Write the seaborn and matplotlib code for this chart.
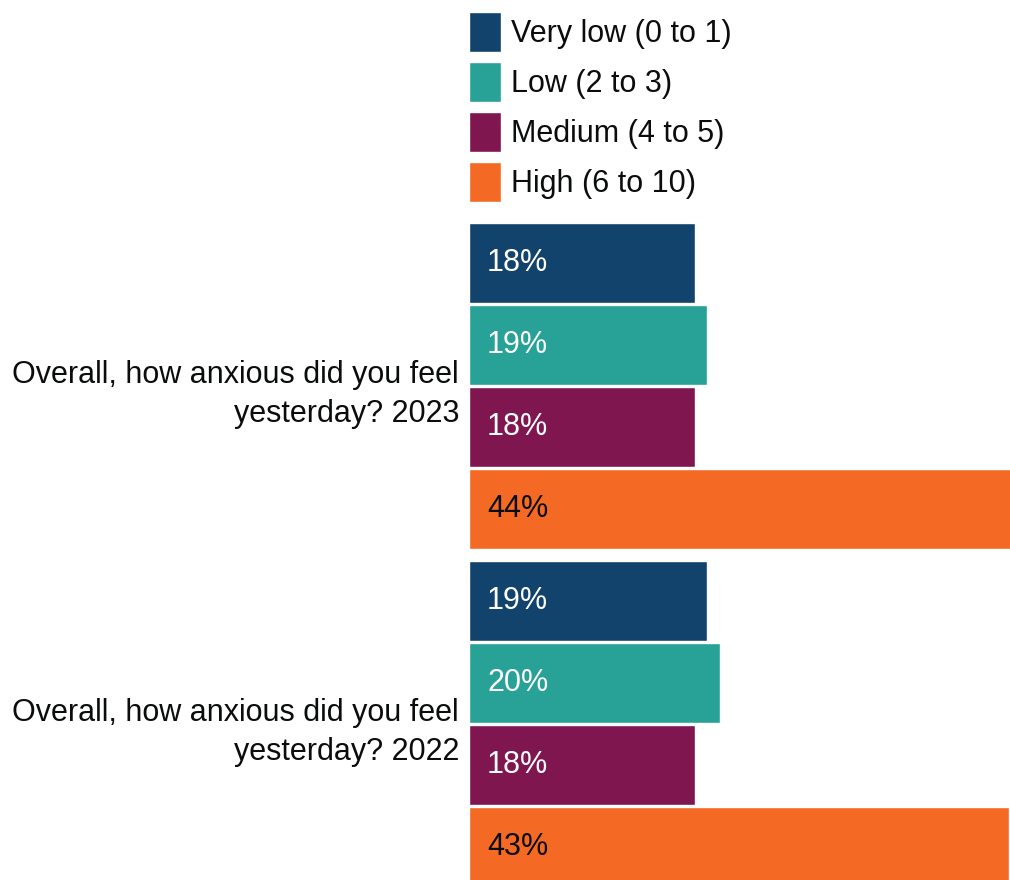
import matplotlib
matplotlib.use("Agg")
import matplotlib.pyplot as plt
import seaborn as sns
import pandas as pd

# Survey responses: share of people by anxiety rating
questions = [
    "Overall, how anxious did you feel\nyesterday? 2023",
    "Overall, how anxious did you feel\nyesterday? 2022",
]
bands = ["Very low (0 to 1)", "Low (2 to 3)", "Medium (4 to 5)", "High (6 to 10)"]
values_2023 = [18, 19, 18, 44]
values_2022 = [19, 20, 18, 43]
colours = ["#12436D", "#28A197", "#801650", "#F46A25"]
label_colours = ["white", "white", "white", "#0b0c0c"]

df = pd.DataFrame({
    "question": [questions[0]] * 4 + [questions[1]] * 4,
    "band": bands * 2,
    "value": values_2023 + values_2022,
})

sns.set_theme(style="white")
plt.rcParams["font.family"] = ["Liberation Sans", "DejaVu Sans"]
plt.rcParams["text.color"] = "#0b0c0c"

fig = plt.figure(figsize=(10.1, 8.8), dpi=100)
ax = fig.add_axes([469 / 1010, 0.0, 541 / 1010, 667 / 880])

sns.barplot(
    data=df, y="question", x="value", hue="band",
    order=questions, hue_order=bands, palette=colours,
    orient="h", width=0.97, gap=0.025, saturation=1,
    ax=ax, legend=True,
)

ax.set_xlim(0, 43.1)
ax.set_ylim(1.4615, -0.512)
ax.set_xlabel("")
ax.set_ylabel("")
ax.xaxis.set_visible(False)
for s in ax.spines.values():
    s.set_visible(False)
ax.tick_params(axis="y", length=0, pad=7.2, labelsize=22, labelcolor="#0b0c0c")
for lbl in ax.get_yticklabels():
    lbl.set_horizontalalignment("right")
    lbl.set_multialignment("right")
    lbl.set_linespacing(1.4)

# Value labels inside the start of each bar
for band_i, container in enumerate(ax.containers):
    for bar in container:
        w = bar.get_width()
        ax.annotate(
            f"{w:.0f}%",
            xy=(bar.get_x(), bar.get_y() + bar.get_height() / 2),
            xytext=(13, 0), textcoords="offset points",
            ha="left", va="center", fontsize=22,
            color=label_colours[band_i],
        )

handles, labels = ax.get_legend_handles_labels()
ax.get_legend().remove()
fig.legend(
    handles, labels, loc="upper left",
    bbox_to_anchor=(469 / 1010, 1 - 12 / 880), bbox_transform=fig.transFigure,
    frameon=False, fontsize=22, borderpad=0, borderaxespad=0,
    handlelength=1.05, handleheight=1.64, labelspacing=0.33, handletextpad=0.33,
)

fig.savefig("out.png", dpi=100)
